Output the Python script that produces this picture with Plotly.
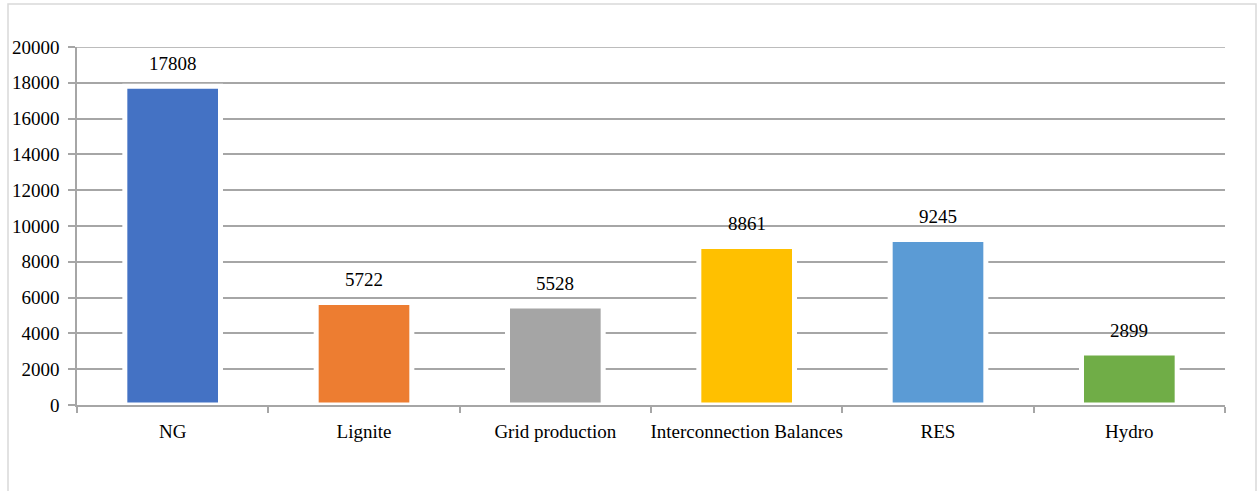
import plotly.graph_objects as go

categories = ["NG", "Lignite", "Grid production", "Interconnection Balances", "RES", "Hydro"]
values = [17808, 5722, 5528, 8861, 9245, 2899]
bar_colors = ["#4472C4", "#ED7D31", "#A5A5A5", "#FFC000", "#5B9BD5", "#70AD47"]
y_ticks = [0, 2000, 4000, 6000, 8000, 10000, 12000, 14000, 16000, 18000, 20000]

FONT = "Liberation Serif"
FS = 19
W, H = 1259, 491
ML, MR, MT, MB = 77, 34, 47, 86
GRID = "#A6A6A6"

fig = go.Figure()
fig.add_trace(go.Bar(
    x=categories,
    y=values,
    marker=dict(color=bar_colors, line=dict(color="white", width=5)),
    hoverinfo="x+y",
))

# value labels above each bar
for c, v in zip(categories, values):
    fig.add_annotation(
        x=c, y=v, text=str(v), showarrow=False,
        yanchor="middle", yshift=23,
        font=dict(family=FONT, size=FS, color="#000000"),
    )

# top gridline at the end of the value range
fig.add_shape(
    type="line", xref="paper", yref="y",
    x0=0, x1=1, y0=y_ticks[-1], y1=y_ticks[-1],
    line=dict(color=GRID, width=1.5), layer="below",
)

# light frame around the chart
pw, ph = W - ML - MR, H - MT - MB
fig.add_shape(
    type="rect", xref="paper", yref="paper",
    x0=(8 - ML) / pw, x1=(1256 - ML) / pw,
    y0=-(MB + 10) / ph, y1=(H - MB - 4) / ph,
    line=dict(color="#D9D9D9", width=1.5), fillcolor="rgba(0,0,0,0)",
    layer="below",
)

fig.update_layout(
    width=W, height=H,
    margin=dict(l=ML, r=MR, t=MT, b=MB, autoexpand=False),
    paper_bgcolor="white", plot_bgcolor="white",
    bargap=0.5,
    showlegend=False,
    font=dict(family=FONT, size=FS, color="#000000"),
)
fig.update_xaxes(
    type="category",
    tickson="boundaries",
    tickangle=0,
    automargin=False,
    ticks="outside", ticklen=6, tickcolor=GRID, tickwidth=1.5,
    ticklabelstandoff=8,
    showline=True, linecolor=GRID, linewidth=1.5,
    showgrid=False,
    tickfont=dict(family=FONT, size=FS, color="#000000"),
)
fig.update_yaxes(
    range=[0, 20000],
    automargin=False,
    tickvals=y_ticks,
    ticktext=[str(t) for t in y_ticks],
    ticks="outside", ticklen=7, tickcolor=GRID, tickwidth=1.5,
    ticklabelstandoff=5,
    showline=True, linecolor=GRID, linewidth=1.5,
    showgrid=True, gridcolor=GRID, gridwidth=1.5,
    zeroline=False,
    tickfont=dict(family=FONT, size=FS, color="#000000"),
)

fig.write_html("out.html")
